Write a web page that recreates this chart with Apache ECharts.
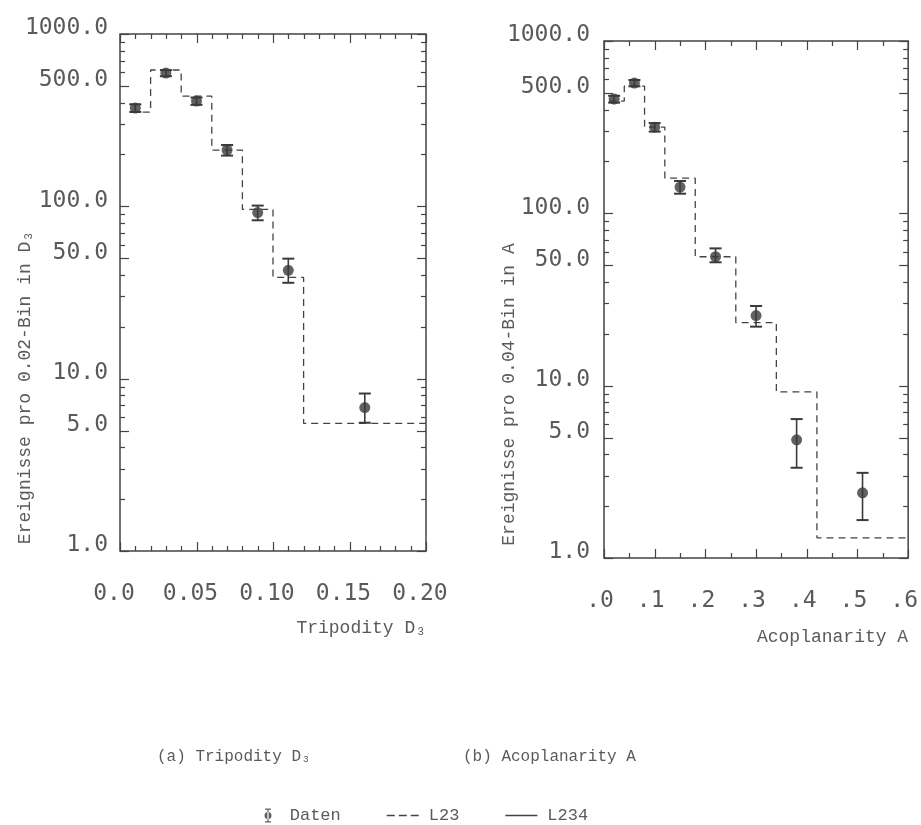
<!DOCTYPE html>
<html><head><meta charset="utf-8">
<script src="https://cdn.jsdelivr.net/npm/echarts@6/dist/echarts.min.js"></script>
<style>html,body{margin:0;padding:0;background:#fff}#c{width:921px;height:825px}</style>
</head><body><div id="c"></div>
<script>
// ---- Panel (a): Tripodity D3 ----
const d3BinEdges = [0.007, 0.02, 0.04, 0.06, 0.08, 0.10, 0.12, 0.20];
const d3L23 = [352, 618, 436, 212, 96, 38.7, 5.5];
const d3X = [0.01, 0.03, 0.05, 0.07, 0.09, 0.11, 0.16];
const d3Daten = [372, 593, 408, 212, 92, 42.5, 6.8];
const d3Low = [353, 569, 388, 197, 83, 36, 5.55];
const d3High = [391, 617, 428, 227, 101, 49.7, 8.2];
const d3XTickLabels = ['0.0', '0.05', '0.10', '0.15', '0.20'];
const d3XMajorTicks = [0, 0.05, 0.10, 0.15, 0.20];
const d3XMinorTicks = [0.01, 0.02, 0.03, 0.04, 0.06, 0.07, 0.08, 0.09, 0.11, 0.12, 0.13, 0.14, 0.16, 0.17, 0.18, 0.19];

// ---- Panel (b): Acoplanarity A ----
const aBinEdges = [0.01, 0.04, 0.08, 0.12, 0.18, 0.26, 0.34, 0.42, 0.60];
const aL23 = [448, 547, 316, 160, 56, 23.2, 9.2, 1.31];
const aX = [0.02, 0.06, 0.10, 0.15, 0.22, 0.30, 0.38, 0.51];
const aDaten = [460, 570, 316, 142, 56, 25.5, 4.85, 2.39];
const aLow = [439, 546, 298, 130, 52, 22, 3.34, 1.66];
const aHigh = [481, 594, 334, 154, 62.6, 29, 6.4, 3.12];
const aXTickLabels = ['.0', '.1', '.2', '.3', '.4', '.5', '.6'];
const aXMajorTicks = [0, 0.1, 0.2, 0.3, 0.4, 0.5, 0.6];
const aXMinorTicks = [0.05, 0.15, 0.25, 0.35, 0.45, 0.55];

// ---- shared y axis (log) ----
const yLabelValues = [1, 5, 10, 50, 100, 500, 1000];
const yTickLabels = ['1.0', '5.0', '10.0', '50.0', '100.0', '500.0', '1000.0'];
const yMinorTickValues = [2, 3, 4, 6, 7, 8, 9, 20, 30, 40, 60, 70, 80, 90, 200, 300, 400, 600, 700, 800, 900];

const ink = '#444';
const txt = '#5a5a5a';
const MAJOR = 9, MINOR = 5;

function yLabelFmt(v) {
  let best = 0, bd = Infinity;
  yLabelValues.forEach((t, i) => { const d = Math.abs(Math.log(t) - Math.log(v)); if (d < bd) { bd = d; best = i; } });
  return yTickLabels[best];
}

function yAxisFor(grid, name, labelMargin, nameGap) {
  return {type: 'log', logBase: 10, min: 1, max: 1000, gridIndex: grid, position: 'left',
    splitLine: {show: false}, minorTick: {show: false}, minorSplitLine: {show: false},
    axisLine: {show: false}, axisTick: {show: false},
    axisLabel: {show: true, customValues: yLabelValues, formatter: yLabelFmt, margin: labelMargin,
      fontFamily: 'DejaVu Sans Mono', fontSize: 23, color: txt, verticalAlign: 'bottom', lineHeight: 11},
    name: name, nameLocation: 'middle', nameGap: nameGap, nameRotate: 90, nameMoveOverlap: false,
    nameTextStyle: {fontFamily: 'Liberation Mono', fontSize: 18, color: txt, padding: [0, 190, 0, 0]}};
}

function xAxisFor(grid, max, interval, labels, name, labelPad, namePad) {
  return {type: 'value', min: 0, max: max, interval: interval, gridIndex: grid, position: 'bottom',
    splitLine: {show: false}, minorSplitLine: {show: false}, minorTick: {show: false},
    axisLine: {show: false, onZero: false}, axisTick: {show: false},
    axisLabel: {show: true, margin: 32, fontFamily: 'DejaVu Sans Mono', fontSize: 23, color: txt,
      padding: [0, labelPad, 0, 0],
      formatter: v => labels[Math.round(v / interval)]},
    name: name, nameLocation: 'end', nameGap: 0, nameMoveOverlap: false,
    nameTextStyle: {fontFamily: 'Liberation Mono', fontSize: 18, color: txt, align: 'right',
      verticalAlign: 'top', padding: [namePad, 0, 0, 0]}};
}

function stepData(edges, levels) {
  return edges.map((e, i) => [e, levels[Math.min(i, levels.length - 1)]]);
}

function errRender(params, api) {
  const x = api.value(0);
  const lo = api.coord([x, api.value(1)]);
  const hi = api.coord([x, api.value(2)]);
  const w = 6;
  const st = {stroke: '#3a3a3a', lineWidth: 1.6};
  const cap = {stroke: '#3a3a3a', lineWidth: 2};
  return {type: 'group', children: [
    {type: 'line', shape: {x1: hi[0], y1: hi[1], x2: lo[0], y2: lo[1]}, style: st},
    {type: 'line', shape: {x1: hi[0] - w, y1: hi[1], x2: hi[0] + w, y2: hi[1]}, style: cap},
    {type: 'line', shape: {x1: lo[0] - w, y1: lo[1], x2: lo[0] + w, y2: lo[1]}, style: cap}
  ]};
}

// tick marks placed through the axes' own scales
function tickRender(params, api) {
  const cs = params.coordSys;
  const kind = api.value(2);
  const len = api.value(3);
  const st = {stroke: ink, lineWidth: 1.2};
  const p = api.coord([api.value(0), api.value(1)]);
  if (kind === 0) {
    const y = Math.round(p[1]) + 0.5;
    return {type: 'group', children: [
      {type: 'line', shape: {x1: cs.x, y1: y, x2: cs.x + len, y2: y}, style: st},
      {type: 'line', shape: {x1: cs.x + cs.width, y1: y, x2: cs.x + cs.width - len, y2: y}, style: st}
    ]};
  }
  const x = Math.round(p[0]) + 0.5;
  return {type: 'group', children: [
    {type: 'line', shape: {x1: x, y1: cs.y + cs.height, x2: x, y2: cs.y + cs.height - len}, style: st},
    {type: 'line', shape: {x1: x, y1: cs.y, x2: x, y2: cs.y + len}, style: st}
  ]};
}

function tickData(xMajor, xMinor) {
  const d = [];
  yLabelValues.forEach(v => d.push([xMajor[1], v, 0, MAJOR]));
  yMinorTickValues.forEach(v => d.push([xMajor[1], v, 0, MINOR]));
  xMajor.forEach(v => d.push([v, 10, 1, MAJOR]));
  xMinor.forEach(v => d.push([v, 10, 1, MINOR]));
  return d;
}

function panelSeries(gi, edges, levels, xs, vals, lo, hi, xMajor, xMinor) {
  return [
    {name: 'ticks', type: 'custom', xAxisIndex: gi, yAxisIndex: gi, renderItem: tickRender,
      data: tickData(xMajor, xMinor), silent: true, z: 1},
    {name: 'L23', type: 'line', xAxisIndex: gi, yAxisIndex: gi, step: 'end', symbol: 'none',
      data: stepData(edges, levels), lineStyle: {color: ink, width: 1.3, type: [7, 5]}, itemStyle: {color: ink}, z: 2},
    {name: 'err', type: 'custom', xAxisIndex: gi, yAxisIndex: gi, renderItem: errRender,
      data: xs.map((x, i) => [x, lo[i], hi[i]]), z: 3},
    {name: 'Daten', type: 'scatter', xAxisIndex: gi, yAxisIndex: gi, symbol: 'circle', symbolSize: 11,
      symbolKeepAspect: true, itemStyle: {color: '#3a3a3a'},
      data: xs.map((x, i) => [x, vals[i]]), z: 4}
  ];
}

const datenIcon = 'path://M-8,7h0.01v0.01h-0.01z M3.4,0h1.2v14h-1.2z M1,0h6v1.3h-6z M1,12.7h6v1.3h-6z M0.5,7a3.5,3.5 0 1,0 7,0a3.5,3.5 0 1,0 -7,0z';
const dashIcon = 'path://M0,0h8v1.6h-8z M12,0h8v1.6h-8z M24,0h8v1.6h-8z';
const solidIcon = 'path://M0,0h32v1.4h-32z';

const chart = echarts.init(document.getElementById('c'), null, {renderer: 'canvas'});
chart.setOption({
  animation: false,
  backgroundColor: '#fff',
  grid: [
    {left: 120, top: 34, width: 306, height: 517, show: true, borderColor: ink, borderWidth: 1.5, backgroundColor: 'transparent'},
    {left: 604, top: 41, width: 308, height: 517, show: true, borderColor: ink, borderWidth: 1.5, backgroundColor: 'transparent'}
  ],
  title: [
    {text: '(a) Tripodity D\u2083', left: 157, top: 749, padding: 0,
      textStyle: {fontFamily: 'Liberation Mono', fontSize: 16, fontWeight: 'normal', color: txt}},
    {text: '(b) Acoplanarity A', left: 463, top: 749, padding: 0,
      textStyle: {fontFamily: 'Liberation Mono', fontSize: 16, fontWeight: 'normal', color: txt}}
  ],
  legend: {
    data: [
      {name: 'Daten', icon: datenIcon, symbolKeepAspect: true},
      {name: 'L23', icon: dashIcon, symbolKeepAspect: true},
      {name: 'L234', icon: solidIcon, symbolKeepAspect: true}
    ],
    left: 256, top: 807, padding: 0, itemGap: 46, itemWidth: 32, itemHeight: 14,
    textStyle: {fontFamily: 'Liberation Mono', fontSize: 17, color: txt, padding: [0, 0, 0, 5]}
  },
  xAxis: [
    xAxisFor(0, 0.2, 0.05, d3XTickLabels, 'Tripodity D\u2083', 12, 68),
    xAxisFor(1, 0.6, 0.1, aXTickLabels, 'Acoplanarity A', 8, 70)
  ],
  yAxis: [
    yAxisFor(0, 'Ereignisse pro 0.02-Bin in D\u2083', 12, 86),
    yAxisFor(1, 'Ereignisse pro 0.04-Bin in A', 14, 86)
  ],
  series: [].concat(
    panelSeries(0, d3BinEdges, d3L23, d3X, d3Daten, d3Low, d3High, d3XMajorTicks, d3XMinorTicks),
    panelSeries(1, aBinEdges, aL23, aX, aDaten, aLow, aHigh, aXMajorTicks, aXMinorTicks),
    [{name: 'L234', type: 'line', xAxisIndex: 1, yAxisIndex: 1, symbol: 'none', data: [],
      lineStyle: {color: ink, width: 1.3, type: 'solid'}, itemStyle: {color: ink}}]
  )
});
</script>
</body></html>
